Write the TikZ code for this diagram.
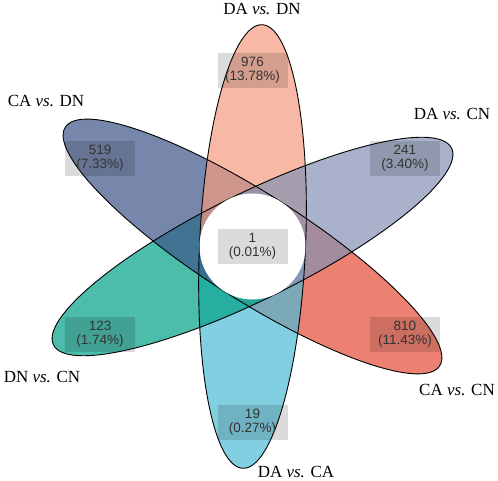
\documentclass[tikz,border=0pt]{standalone}
\usepackage{fontspec}
\setmainfont{Liberation Serif}
\setsansfont{Liberation Sans}
\usetikzlibrary{calc}
\definecolor{cRed}{HTML}{E64B35}
\definecolor{cCyan}{HTML}{4DBBD5}
\definecolor{cTeal}{HTML}{00A087}
\definecolor{cNavy}{HTML}{3C5488}
\definecolor{cSalmon}{HTML}{F39B7F}
\definecolor{cLav}{HTML}{8491B4}
\definecolor{numgray}{HTML}{333333}
\tikzset{
  numbox/.style={fill=black, fill opacity=0.14, text opacity=1, text=numgray,
    minimum width=70pt, minimum height=35pt, inner sep=0pt, align=center,
    font=\fontsize{13.5}{14}\sffamily},
  settitle/.style={font=\fontsize{17}{20}\selectfont, inner sep=0pt, anchor=base},
  petalfill/.style={fill opacity=0.7},
  petaledge/.style={draw=black, line width=0.9pt},
}
\begin{document}
\begin{tikzpicture}[x=1pt,y=1pt]
\useasboundingbox (0,0) rectangle (498,480);
\coordinate (C) at (252.5,233.5);
\def\pa{222}\def\pb{53}
% petal fills (half ellipses sharing the centre)
\foreach \ang/\col in {-32.5/cRed, -92.5/cCyan, -153.7/cTeal, 147.5/cNavy, 87.5/cSalmon, 26.3/cLav}{
  \begin{scope}[shift={(C)}, rotate=\ang]
    \fill[\col, petalfill] (0,-\pb) arc[start angle=-90, end angle=90, x radius=\pa, y radius=\pb] -- cycle;
  \end{scope}
}
% petal outlines
\foreach \ang in {-32.5, -92.5, -153.7, 147.5, 87.5, 26.3}{
  \begin{scope}[shift={(C)}, rotate=\ang]
    \draw[petaledge] (0,-\pb) arc[start angle=-90, end angle=90, x radius=\pa, y radius=\pb];
  \end{scope}
}
% core circle
\fill[white] (C) circle (53);
% counts
\node[numbox] (core) at (C) {1\\(0.01\%)};
\node[numbox] (nDADN) at ($(C)+(90:176)$) {976\\(13.78\%)};
\node[numbox] (nDACN) at ($(C)+(30:176)$) {241\\(3.40\%)};
\node[numbox] (nCACN) at ($(C)+(-30:176)$) {810\\(11.43\%)};
\node[numbox] (nDACA) at ($(C)+(-90:176)$) {19\\(0.27\%)};
\node[numbox] (nDNCN) at ($(C)+(210:176)$) {123\\(1.74\%)};
\node[numbox] (nCADN) at ($(C)+(150:176)$) {519\\(7.33\%)};
% titles
\node[settitle] (tDADN) at (262,465) {DA \textit{vs.} DN};
\node[settitle] (tDACN) at (452,360) {DA \textit{vs.} CN};
\node[settitle] (tCACN) at (457,85) {CA \textit{vs.} CN};
\node[settitle] (tDACA) at (296,3) {DA \textit{vs.} CA};
\node[settitle] (tDNCN) at (42,98) {DN \textit{vs.} CN};
\node[settitle] (tCADN) at (46,373) {CA \textit{vs.} DN};
\end{tikzpicture}
\end{document}
